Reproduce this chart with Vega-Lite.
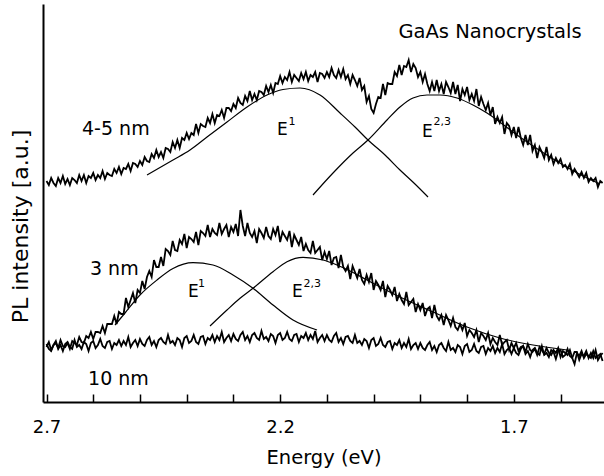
{
  "$schema": "https://vega.github.io/schema/vega-lite/v6.json",
  "width": 561,
  "height": 398,
  "autosize": {"type": "none"},
  "padding": {"left": 43, "top": 4, "right": 0, "bottom": 74},
  "background": "white",
  "config": {"view": {"stroke": null}, "font": "DejaVu Sans"},
  "datasets": {
    "pl": [
      {"d":"4-5 nm","E":2.700,"I":221},{"d":"4-5 nm","E":2.695,"I":217},{"d":"4-5 nm","E":2.690,"I":224},{"d":"4-5 nm","E":2.685,"I":219},{"d":"4-5 nm","E":2.680,"I":216},{"d":"4-5 nm","E":2.675,"I":224},{"d":"4-5 nm","E":2.670,"I":219},{"d":"4-5 nm","E":2.665,"I":226},{"d":"4-5 nm","E":2.660,"I":218},{"d":"4-5 nm","E":2.655,"I":223},
      {"d":"4-5 nm","E":2.650,"I":217},{"d":"4-5 nm","E":2.645,"I":224},{"d":"4-5 nm","E":2.640,"I":222},{"d":"4-5 nm","E":2.635,"I":219},{"d":"4-5 nm","E":2.630,"I":227},{"d":"4-5 nm","E":2.625,"I":221},{"d":"4-5 nm","E":2.620,"I":227},{"d":"4-5 nm","E":2.615,"I":219},{"d":"4-5 nm","E":2.610,"I":226},{"d":"4-5 nm","E":2.605,"I":224},
      {"d":"4-5 nm","E":2.600,"I":229},{"d":"4-5 nm","E":2.595,"I":222},{"d":"4-5 nm","E":2.590,"I":227},{"d":"4-5 nm","E":2.585,"I":224},{"d":"4-5 nm","E":2.580,"I":231},{"d":"4-5 nm","E":2.575,"I":223},{"d":"4-5 nm","E":2.570,"I":229},{"d":"4-5 nm","E":2.565,"I":227},{"d":"4-5 nm","E":2.560,"I":226},{"d":"4-5 nm","E":2.555,"I":233},
      {"d":"4-5 nm","E":2.550,"I":229},{"d":"4-5 nm","E":2.545,"I":235},{"d":"4-5 nm","E":2.540,"I":228},{"d":"4-5 nm","E":2.535,"I":234},{"d":"4-5 nm","E":2.530,"I":233},{"d":"4-5 nm","E":2.525,"I":238},{"d":"4-5 nm","E":2.520,"I":231},{"d":"4-5 nm","E":2.515,"I":239},{"d":"4-5 nm","E":2.510,"I":238},{"d":"4-5 nm","E":2.505,"I":235},
      {"d":"4-5 nm","E":2.500,"I":241},{"d":"4-5 nm","E":2.495,"I":237},{"d":"4-5 nm","E":2.490,"I":245},{"d":"4-5 nm","E":2.485,"I":241},{"d":"4-5 nm","E":2.480,"I":240},{"d":"4-5 nm","E":2.475,"I":248},{"d":"4-5 nm","E":2.470,"I":244},{"d":"4-5 nm","E":2.465,"I":252},{"d":"4-5 nm","E":2.460,"I":245},{"d":"4-5 nm","E":2.455,"I":250},
      {"d":"4-5 nm","E":2.450,"I":244},{"d":"4-5 nm","E":2.445,"I":254},{"d":"4-5 nm","E":2.440,"I":253},{"d":"4-5 nm","E":2.435,"I":250},{"d":"4-5 nm","E":2.430,"I":260},{"d":"4-5 nm","E":2.425,"I":254},{"d":"4-5 nm","E":2.420,"I":262},{"d":"4-5 nm","E":2.415,"I":254},{"d":"4-5 nm","E":2.410,"I":264},{"d":"4-5 nm","E":2.405,"I":262},
      {"d":"4-5 nm","E":2.400,"I":269},{"d":"4-5 nm","E":2.395,"I":263},{"d":"4-5 nm","E":2.390,"I":269},{"d":"4-5 nm","E":2.385,"I":267},{"d":"4-5 nm","E":2.380,"I":278},{"d":"4-5 nm","E":2.375,"I":269},{"d":"4-5 nm","E":2.370,"I":278},{"d":"4-5 nm","E":2.365,"I":276},{"d":"4-5 nm","E":2.360,"I":275},{"d":"4-5 nm","E":2.355,"I":284},
      {"d":"4-5 nm","E":2.350,"I":279},{"d":"4-5 nm","E":2.345,"I":288},{"d":"4-5 nm","E":2.340,"I":279},{"d":"4-5 nm","E":2.335,"I":287},{"d":"4-5 nm","E":2.330,"I":286},{"d":"4-5 nm","E":2.325,"I":292},{"d":"4-5 nm","E":2.320,"I":284},{"d":"4-5 nm","E":2.315,"I":294},{"d":"4-5 nm","E":2.310,"I":294},{"d":"4-5 nm","E":2.305,"I":291},
      {"d":"4-5 nm","E":2.300,"I":298},{"d":"4-5 nm","E":2.295,"I":294},{"d":"4-5 nm","E":2.290,"I":304},{"d":"4-5 nm","E":2.285,"I":299},{"d":"4-5 nm","E":2.280,"I":297},{"d":"4-5 nm","E":2.275,"I":306},{"d":"4-5 nm","E":2.270,"I":301},{"d":"4-5 nm","E":2.265,"I":311},{"d":"4-5 nm","E":2.260,"I":302},{"d":"4-5 nm","E":2.255,"I":308},
      {"d":"4-5 nm","E":2.250,"I":302},{"d":"4-5 nm","E":2.245,"I":311},{"d":"4-5 nm","E":2.240,"I":310},{"d":"4-5 nm","E":2.235,"I":307},{"d":"4-5 nm","E":2.230,"I":316},{"d":"4-5 nm","E":2.225,"I":310},{"d":"4-5 nm","E":2.220,"I":317},{"d":"4-5 nm","E":2.215,"I":309},{"d":"4-5 nm","E":2.210,"I":319},{"d":"4-5 nm","E":2.205,"I":318},
      {"d":"4-5 nm","E":2.200,"I":326},{"d":"4-5 nm","E":2.195,"I":319},{"d":"4-5 nm","E":2.190,"I":325},{"d":"4-5 nm","E":2.185,"I":322},{"d":"4-5 nm","E":2.180,"I":330},{"d":"4-5 nm","E":2.175,"I":320},{"d":"4-5 nm","E":2.170,"I":327},{"d":"4-5 nm","E":2.165,"I":324},{"d":"4-5 nm","E":2.160,"I":321},{"d":"4-5 nm","E":2.155,"I":329},
      {"d":"4-5 nm","E":2.150,"I":323},{"d":"4-5 nm","E":2.145,"I":330},{"d":"4-5 nm","E":2.140,"I":321},{"d":"4-5 nm","E":2.135,"I":327},{"d":"4-5 nm","E":2.130,"I":325},{"d":"4-5 nm","E":2.125,"I":330},{"d":"4-5 nm","E":2.120,"I":320},{"d":"4-5 nm","E":2.115,"I":329},{"d":"4-5 nm","E":2.110,"I":328},{"d":"4-5 nm","E":2.105,"I":324},
      {"d":"4-5 nm","E":2.100,"I":330},{"d":"4-5 nm","E":2.095,"I":325},{"d":"4-5 nm","E":2.090,"I":334},{"d":"4-5 nm","E":2.085,"I":327},{"d":"4-5 nm","E":2.080,"I":324},{"d":"4-5 nm","E":2.075,"I":332},{"d":"4-5 nm","E":2.070,"I":325},{"d":"4-5 nm","E":2.065,"I":333},{"d":"4-5 nm","E":2.060,"I":323},{"d":"4-5 nm","E":2.055,"I":327},
      {"d":"4-5 nm","E":2.050,"I":318},{"d":"4-5 nm","E":2.045,"I":327},{"d":"4-5 nm","E":2.040,"I":322},{"d":"4-5 nm","E":2.035,"I":316},{"d":"4-5 nm","E":2.030,"I":324},{"d":"4-5 nm","E":2.025,"I":312},{"d":"4-5 nm","E":2.020,"I":316},{"d":"4-5 nm","E":2.015,"I":300},{"d":"4-5 nm","E":2.010,"I":306},{"d":"4-5 nm","E":2.005,"I":293},
      {"d":"4-5 nm","E":2.000,"I":289},{"d":"4-5 nm","E":1.995,"I":298},{"d":"4-5 nm","E":1.990,"I":305},{"d":"4-5 nm","E":1.985,"I":304},{"d":"4-5 nm","E":1.980,"I":318},{"d":"4-5 nm","E":1.975,"I":307},{"d":"4-5 nm","E":1.970,"I":319},{"d":"4-5 nm","E":1.965,"I":318},{"d":"4-5 nm","E":1.960,"I":318},{"d":"4-5 nm","E":1.955,"I":330},
      {"d":"4-5 nm","E":1.950,"I":326},{"d":"4-5 nm","E":1.945,"I":337},{"d":"4-5 nm","E":1.940,"I":327},{"d":"4-5 nm","E":1.935,"I":336},{"d":"4-5 nm","E":1.930,"I":335},{"d":"4-5 nm","E":1.925,"I":342},{"d":"4-5 nm","E":1.920,"I":330},{"d":"4-5 nm","E":1.915,"I":338},{"d":"4-5 nm","E":1.910,"I":334},{"d":"4-5 nm","E":1.905,"I":325},
      {"d":"4-5 nm","E":1.900,"I":330},{"d":"4-5 nm","E":1.895,"I":320},{"d":"4-5 nm","E":1.890,"I":328},{"d":"4-5 nm","E":1.885,"I":318},{"d":"4-5 nm","E":1.880,"I":311},{"d":"4-5 nm","E":1.875,"I":320},{"d":"4-5 nm","E":1.870,"I":311},{"d":"4-5 nm","E":1.865,"I":322},{"d":"4-5 nm","E":1.860,"I":311},{"d":"4-5 nm","E":1.855,"I":318},
      {"d":"4-5 nm","E":1.850,"I":308},{"d":"4-5 nm","E":1.845,"I":320},{"d":"4-5 nm","E":1.840,"I":315},{"d":"4-5 nm","E":1.835,"I":309},{"d":"4-5 nm","E":1.830,"I":320},{"d":"4-5 nm","E":1.825,"I":308},{"d":"4-5 nm","E":1.820,"I":317},{"d":"4-5 nm","E":1.815,"I":301},{"d":"4-5 nm","E":1.810,"I":313},{"d":"4-5 nm","E":1.805,"I":307},
      {"d":"4-5 nm","E":1.800,"I":315},{"d":"4-5 nm","E":1.795,"I":302},{"d":"4-5 nm","E":1.790,"I":308},{"d":"4-5 nm","E":1.785,"I":301},{"d":"4-5 nm","E":1.780,"I":313},{"d":"4-5 nm","E":1.775,"I":296},{"d":"4-5 nm","E":1.770,"I":305},{"d":"4-5 nm","E":1.765,"I":298},{"d":"4-5 nm","E":1.760,"I":292},{"d":"4-5 nm","E":1.755,"I":299},
      {"d":"4-5 nm","E":1.750,"I":287},{"d":"4-5 nm","E":1.745,"I":295},{"d":"4-5 nm","E":1.740,"I":278},{"d":"4-5 nm","E":1.735,"I":285},{"d":"4-5 nm","E":1.730,"I":279},{"d":"4-5 nm","E":1.725,"I":285},{"d":"4-5 nm","E":1.720,"I":268},{"d":"4-5 nm","E":1.715,"I":279},{"d":"4-5 nm","E":1.710,"I":276},{"d":"4-5 nm","E":1.705,"I":267},
      {"d":"4-5 nm","E":1.700,"I":275},{"d":"4-5 nm","E":1.695,"I":264},{"d":"4-5 nm","E":1.690,"I":275},{"d":"4-5 nm","E":1.685,"I":264},{"d":"4-5 nm","E":1.680,"I":257},{"d":"4-5 nm","E":1.675,"I":267},{"d":"4-5 nm","E":1.670,"I":257},{"d":"4-5 nm","E":1.665,"I":267},{"d":"4-5 nm","E":1.660,"I":251},{"d":"4-5 nm","E":1.655,"I":257},
      {"d":"4-5 nm","E":1.650,"I":244},{"d":"4-5 nm","E":1.645,"I":255},{"d":"4-5 nm","E":1.640,"I":250},{"d":"4-5 nm","E":1.635,"I":244},{"d":"4-5 nm","E":1.630,"I":255},{"d":"4-5 nm","E":1.625,"I":242},{"d":"4-5 nm","E":1.620,"I":247},{"d":"4-5 nm","E":1.615,"I":238},{"d":"4-5 nm","E":1.610,"I":244},{"d":"4-5 nm","E":1.605,"I":239},
      {"d":"4-5 nm","E":1.600,"I":243},{"d":"4-5 nm","E":1.595,"I":235},{"d":"4-5 nm","E":1.590,"I":237},{"d":"4-5 nm","E":1.585,"I":233},{"d":"4-5 nm","E":1.580,"I":238},{"d":"4-5 nm","E":1.575,"I":228},{"d":"4-5 nm","E":1.570,"I":233},{"d":"4-5 nm","E":1.565,"I":229},{"d":"4-5 nm","E":1.560,"I":225},{"d":"4-5 nm","E":1.555,"I":230},
      {"d":"4-5 nm","E":1.550,"I":224},{"d":"4-5 nm","E":1.545,"I":229},{"d":"4-5 nm","E":1.540,"I":220},{"d":"4-5 nm","E":1.535,"I":224},{"d":"4-5 nm","E":1.530,"I":221},{"d":"4-5 nm","E":1.525,"I":224},{"d":"4-5 nm","E":1.520,"I":215},{"d":"4-5 nm","E":1.515,"I":221},{"d":"4-5 nm","E":1.510,"I":219},

      {"d":"3 nm","E":2.700,"I":55},{"d":"3 nm","E":2.695,"I":60},{"d":"3 nm","E":2.690,"I":52},{"d":"3 nm","E":2.685,"I":57},{"d":"3 nm","E":2.680,"I":59},{"d":"3 nm","E":2.675,"I":54},{"d":"3 nm","E":2.670,"I":62},{"d":"3 nm","E":2.665,"I":56},{"d":"3 nm","E":2.660,"I":55},{"d":"3 nm","E":2.655,"I":59},
      {"d":"3 nm","E":2.650,"I":53},{"d":"3 nm","E":2.645,"I":61},{"d":"3 nm","E":2.640,"I":59},{"d":"3 nm","E":2.635,"I":57},{"d":"3 nm","E":2.630,"I":65},{"d":"3 nm","E":2.625,"I":60},{"d":"3 nm","E":2.620,"I":59},{"d":"3 nm","E":2.615,"I":66},{"d":"3 nm","E":2.610,"I":64},{"d":"3 nm","E":2.605,"I":70},
      {"d":"3 nm","E":2.600,"I":63},{"d":"3 nm","E":2.595,"I":70},{"d":"3 nm","E":2.590,"I":70},{"d":"3 nm","E":2.585,"I":69},{"d":"3 nm","E":2.580,"I":76},{"d":"3 nm","E":2.575,"I":69},{"d":"3 nm","E":2.570,"I":78},{"d":"3 nm","E":2.565,"I":78},{"d":"3 nm","E":2.560,"I":78},{"d":"3 nm","E":2.555,"I":86},
      {"d":"3 nm","E":2.550,"I":78},{"d":"3 nm","E":2.545,"I":90},{"d":"3 nm","E":2.540,"I":88},{"d":"3 nm","E":2.535,"I":88},{"d":"3 nm","E":2.530,"I":104},{"d":"3 nm","E":2.525,"I":95},{"d":"3 nm","E":2.520,"I":102},{"d":"3 nm","E":2.515,"I":109},{"d":"3 nm","E":2.510,"I":99},{"d":"3 nm","E":2.505,"I":112},
      {"d":"3 nm","E":2.500,"I":109},{"d":"3 nm","E":2.495,"I":121},{"d":"3 nm","E":2.490,"I":113},{"d":"3 nm","E":2.485,"I":125},{"d":"3 nm","E":2.480,"I":131},{"d":"3 nm","E":2.475,"I":125},{"d":"3 nm","E":2.470,"I":142},{"d":"3 nm","E":2.465,"I":135},{"d":"3 nm","E":2.460,"I":135},{"d":"3 nm","E":2.455,"I":145},
      {"d":"3 nm","E":2.450,"I":136},{"d":"3 nm","E":2.445,"I":153},{"d":"3 nm","E":2.440,"I":151},{"d":"3 nm","E":2.435,"I":147},{"d":"3 nm","E":2.430,"I":161},{"d":"3 nm","E":2.425,"I":152},{"d":"3 nm","E":2.420,"I":151},{"d":"3 nm","E":2.415,"I":162},{"d":"3 nm","E":2.410,"I":158},{"d":"3 nm","E":2.405,"I":168},
      {"d":"3 nm","E":2.400,"I":154},{"d":"3 nm","E":2.395,"I":165},{"d":"3 nm","E":2.390,"I":163},{"d":"3 nm","E":2.385,"I":160},{"d":"3 nm","E":2.380,"I":170},{"d":"3 nm","E":2.375,"I":157},{"d":"3 nm","E":2.370,"I":171},{"d":"3 nm","E":2.365,"I":169},{"d":"3 nm","E":2.360,"I":166},{"d":"3 nm","E":2.355,"I":177},
      {"d":"3 nm","E":2.350,"I":165},{"d":"3 nm","E":2.345,"I":173},{"d":"3 nm","E":2.340,"I":169},{"d":"3 nm","E":2.335,"I":167},{"d":"3 nm","E":2.330,"I":179},{"d":"3 nm","E":2.325,"I":168},{"d":"3 nm","E":2.320,"I":173},{"d":"3 nm","E":2.315,"I":177},{"d":"3 nm","E":2.310,"I":165},{"d":"3 nm","E":2.305,"I":175},
      {"d":"3 nm","E":2.300,"I":170},{"d":"3 nm","E":2.295,"I":178},{"d":"3 nm","E":2.290,"I":166},{"d":"3 nm","E":2.285,"I":192},{"d":"3 nm","E":2.280,"I":176},{"d":"3 nm","E":2.275,"I":166},{"d":"3 nm","E":2.270,"I":179},{"d":"3 nm","E":2.265,"I":169},{"d":"3 nm","E":2.260,"I":165},{"d":"3 nm","E":2.255,"I":171},
      {"d":"3 nm","E":2.250,"I":159},{"d":"3 nm","E":2.245,"I":173},{"d":"3 nm","E":2.240,"I":169},{"d":"3 nm","E":2.235,"I":164},{"d":"3 nm","E":2.230,"I":175},{"d":"3 nm","E":2.225,"I":166},{"d":"3 nm","E":2.220,"I":163},{"d":"3 nm","E":2.215,"I":173},{"d":"3 nm","E":2.210,"I":167},{"d":"3 nm","E":2.205,"I":176},
      {"d":"3 nm","E":2.200,"I":160},{"d":"3 nm","E":2.195,"I":170},{"d":"3 nm","E":2.190,"I":166},{"d":"3 nm","E":2.185,"I":162},{"d":"3 nm","E":2.180,"I":171},{"d":"3 nm","E":2.175,"I":155},{"d":"3 nm","E":2.170,"I":167},{"d":"3 nm","E":2.165,"I":162},{"d":"3 nm","E":2.160,"I":157},{"d":"3 nm","E":2.155,"I":165},
      {"d":"3 nm","E":2.150,"I":151},{"d":"3 nm","E":2.145,"I":158},{"d":"3 nm","E":2.140,"I":152},{"d":"3 nm","E":2.135,"I":149},{"d":"3 nm","E":2.130,"I":161},{"d":"3 nm","E":2.125,"I":149},{"d":"3 nm","E":2.120,"I":152},{"d":"3 nm","E":2.115,"I":155},{"d":"3 nm","E":2.110,"I":142},{"d":"3 nm","E":2.105,"I":150},
      {"d":"3 nm","E":2.100,"I":143},{"d":"3 nm","E":2.095,"I":151},{"d":"3 nm","E":2.090,"I":137},{"d":"3 nm","E":2.085,"I":144},{"d":"3 nm","E":2.080,"I":145},{"d":"3 nm","E":2.075,"I":134},{"d":"3 nm","E":2.070,"I":147},{"d":"3 nm","E":2.065,"I":135},{"d":"3 nm","E":2.060,"I":131},{"d":"3 nm","E":2.055,"I":136},
      {"d":"3 nm","E":2.050,"I":123},{"d":"3 nm","E":2.045,"I":136},{"d":"3 nm","E":2.040,"I":130},{"d":"3 nm","E":2.035,"I":124},{"d":"3 nm","E":2.030,"I":133},{"d":"3 nm","E":2.025,"I":122},{"d":"3 nm","E":2.020,"I":118},{"d":"3 nm","E":2.015,"I":127},{"d":"3 nm","E":2.010,"I":120},{"d":"3 nm","E":2.005,"I":129},
      {"d":"3 nm","E":2.000,"I":112},{"d":"3 nm","E":1.995,"I":121},{"d":"3 nm","E":1.990,"I":117},{"d":"3 nm","E":1.985,"I":112},{"d":"3 nm","E":1.980,"I":121},{"d":"3 nm","E":1.975,"I":105},{"d":"3 nm","E":1.970,"I":116},{"d":"3 nm","E":1.965,"I":112},{"d":"3 nm","E":1.960,"I":107},{"d":"3 nm","E":1.955,"I":115},
      {"d":"3 nm","E":1.950,"I":101},{"d":"3 nm","E":1.945,"I":108},{"d":"3 nm","E":1.940,"I":102},{"d":"3 nm","E":1.935,"I":98},{"d":"3 nm","E":1.930,"I":110},{"d":"3 nm","E":1.925,"I":97},{"d":"3 nm","E":1.920,"I":100},{"d":"3 nm","E":1.915,"I":103},{"d":"3 nm","E":1.910,"I":90},{"d":"3 nm","E":1.905,"I":98},
      {"d":"3 nm","E":1.900,"I":92},{"d":"3 nm","E":1.895,"I":99},{"d":"3 nm","E":1.890,"I":86},{"d":"3 nm","E":1.885,"I":93},{"d":"3 nm","E":1.880,"I":95},{"d":"3 nm","E":1.875,"I":84},{"d":"3 nm","E":1.870,"I":97},{"d":"3 nm","E":1.865,"I":86},{"d":"3 nm","E":1.860,"I":82},{"d":"3 nm","E":1.855,"I":87},
      {"d":"3 nm","E":1.850,"I":77},{"d":"3 nm","E":1.845,"I":87},{"d":"3 nm","E":1.840,"I":82},{"d":"3 nm","E":1.835,"I":76},{"d":"3 nm","E":1.830,"I":84},{"d":"3 nm","E":1.825,"I":75},{"d":"3 nm","E":1.820,"I":72},{"d":"3 nm","E":1.815,"I":78},{"d":"3 nm","E":1.810,"I":72},{"d":"3 nm","E":1.805,"I":79},
      {"d":"3 nm","E":1.800,"I":66},{"d":"3 nm","E":1.795,"I":72},{"d":"3 nm","E":1.790,"I":69},{"d":"3 nm","E":1.785,"I":65},{"d":"3 nm","E":1.780,"I":72},{"d":"3 nm","E":1.775,"I":60},{"d":"3 nm","E":1.770,"I":69},{"d":"3 nm","E":1.765,"I":66},{"d":"3 nm","E":1.760,"I":62},{"d":"3 nm","E":1.755,"I":69},
      {"d":"3 nm","E":1.750,"I":58},{"d":"3 nm","E":1.745,"I":64},{"d":"3 nm","E":1.740,"I":60},{"d":"3 nm","E":1.735,"I":57},{"d":"3 nm","E":1.730,"I":67},{"d":"3 nm","E":1.725,"I":57},{"d":"3 nm","E":1.720,"I":60},{"d":"3 nm","E":1.715,"I":62},{"d":"3 nm","E":1.710,"I":52},{"d":"3 nm","E":1.705,"I":59},
      {"d":"3 nm","E":1.700,"I":54},{"d":"3 nm","E":1.695,"I":59},{"d":"3 nm","E":1.690,"I":51},{"d":"3 nm","E":1.685,"I":55},{"d":"3 nm","E":1.680,"I":56},{"d":"3 nm","E":1.675,"I":50},{"d":"3 nm","E":1.670,"I":58},{"d":"3 nm","E":1.665,"I":52},{"d":"3 nm","E":1.660,"I":50},{"d":"3 nm","E":1.655,"I":53},
      {"d":"3 nm","E":1.650,"I":47},{"d":"3 nm","E":1.645,"I":55},{"d":"3 nm","E":1.640,"I":52},{"d":"3 nm","E":1.635,"I":48},{"d":"3 nm","E":1.630,"I":54},{"d":"3 nm","E":1.625,"I":49},{"d":"3 nm","E":1.620,"I":47},{"d":"3 nm","E":1.615,"I":52},{"d":"3 nm","E":1.610,"I":49},{"d":"3 nm","E":1.605,"I":54},
      {"d":"3 nm","E":1.600,"I":45},{"d":"3 nm","E":1.595,"I":51},{"d":"3 nm","E":1.590,"I":49},{"d":"3 nm","E":1.585,"I":47},{"d":"3 nm","E":1.580,"I":52},{"d":"3 nm","E":1.575,"I":44},{"d":"3 nm","E":1.570,"I":38},{"d":"3 nm","E":1.565,"I":49},{"d":"3 nm","E":1.560,"I":46},{"d":"3 nm","E":1.555,"I":51},
      {"d":"3 nm","E":1.550,"I":44},{"d":"3 nm","E":1.545,"I":48},{"d":"3 nm","E":1.540,"I":46},{"d":"3 nm","E":1.535,"I":44},{"d":"3 nm","E":1.530,"I":51},{"d":"3 nm","E":1.525,"I":44},{"d":"3 nm","E":1.520,"I":46},{"d":"3 nm","E":1.515,"I":48},{"d":"3 nm","E":1.510,"I":41},

      {"d":"10 nm","E":2.700,"I":58},{"d":"10 nm","E":2.695,"I":53},{"d":"10 nm","E":2.690,"I":51},{"d":"10 nm","E":2.685,"I":57},{"d":"10 nm","E":2.680,"I":61},{"d":"10 nm","E":2.675,"I":53},{"d":"10 nm","E":2.670,"I":57},{"d":"10 nm","E":2.665,"I":51},{"d":"10 nm","E":2.660,"I":58},{"d":"10 nm","E":2.655,"I":60},
      {"d":"10 nm","E":2.650,"I":55},{"d":"10 nm","E":2.645,"I":53},{"d":"10 nm","E":2.640,"I":62},{"d":"10 nm","E":2.635,"I":55},{"d":"10 nm","E":2.630,"I":57},{"d":"10 nm","E":2.625,"I":53},{"d":"10 nm","E":2.620,"I":60},{"d":"10 nm","E":2.615,"I":58},{"d":"10 nm","E":2.610,"I":51},{"d":"10 nm","E":2.605,"I":59},
      {"d":"10 nm","E":2.600,"I":61},{"d":"10 nm","E":2.595,"I":54},{"d":"10 nm","E":2.590,"I":57},{"d":"10 nm","E":2.585,"I":63},{"d":"10 nm","E":2.580,"I":56},{"d":"10 nm","E":2.575,"I":54},{"d":"10 nm","E":2.570,"I":60},{"d":"10 nm","E":2.565,"I":61},{"d":"10 nm","E":2.560,"I":53},{"d":"10 nm","E":2.555,"I":59},
      {"d":"10 nm","E":2.550,"I":57},{"d":"10 nm","E":2.545,"I":62},{"d":"10 nm","E":2.540,"I":56},{"d":"10 nm","E":2.535,"I":61},{"d":"10 nm","E":2.530,"I":57},{"d":"10 nm","E":2.525,"I":65},{"d":"10 nm","E":2.520,"I":55},{"d":"10 nm","E":2.515,"I":59},{"d":"10 nm","E":2.510,"I":62},{"d":"10 nm","E":2.505,"I":56},
      {"d":"10 nm","E":2.500,"I":63},{"d":"10 nm","E":2.495,"I":58},{"d":"10 nm","E":2.490,"I":56},{"d":"10 nm","E":2.485,"I":62},{"d":"10 nm","E":2.480,"I":65},{"d":"10 nm","E":2.475,"I":57},{"d":"10 nm","E":2.470,"I":61},{"d":"10 nm","E":2.465,"I":55},{"d":"10 nm","E":2.460,"I":62},{"d":"10 nm","E":2.455,"I":64},
      {"d":"10 nm","E":2.450,"I":60},{"d":"10 nm","E":2.445,"I":58},{"d":"10 nm","E":2.440,"I":67},{"d":"10 nm","E":2.435,"I":59},{"d":"10 nm","E":2.430,"I":61},{"d":"10 nm","E":2.425,"I":57},{"d":"10 nm","E":2.420,"I":64},{"d":"10 nm","E":2.415,"I":62},{"d":"10 nm","E":2.410,"I":55},{"d":"10 nm","E":2.405,"I":64},
      {"d":"10 nm","E":2.400,"I":66},{"d":"10 nm","E":2.395,"I":59},{"d":"10 nm","E":2.390,"I":61},{"d":"10 nm","E":2.385,"I":67},{"d":"10 nm","E":2.380,"I":60},{"d":"10 nm","E":2.375,"I":58},{"d":"10 nm","E":2.370,"I":65},{"d":"10 nm","E":2.365,"I":66},{"d":"10 nm","E":2.360,"I":58},{"d":"10 nm","E":2.355,"I":64},
      {"d":"10 nm","E":2.350,"I":62},{"d":"10 nm","E":2.345,"I":67},{"d":"10 nm","E":2.340,"I":60},{"d":"10 nm","E":2.335,"I":66},{"d":"10 nm","E":2.330,"I":62},{"d":"10 nm","E":2.325,"I":70},{"d":"10 nm","E":2.320,"I":60},{"d":"10 nm","E":2.315,"I":64},{"d":"10 nm","E":2.310,"I":67},{"d":"10 nm","E":2.305,"I":61},
      {"d":"10 nm","E":2.300,"I":68},{"d":"10 nm","E":2.295,"I":63},{"d":"10 nm","E":2.290,"I":61},{"d":"10 nm","E":2.285,"I":67},{"d":"10 nm","E":2.280,"I":70},{"d":"10 nm","E":2.275,"I":62},{"d":"10 nm","E":2.270,"I":66},{"d":"10 nm","E":2.265,"I":60},{"d":"10 nm","E":2.260,"I":67},{"d":"10 nm","E":2.255,"I":69},
      {"d":"10 nm","E":2.250,"I":64},{"d":"10 nm","E":2.245,"I":62},{"d":"10 nm","E":2.240,"I":71},{"d":"10 nm","E":2.235,"I":63},{"d":"10 nm","E":2.230,"I":65},{"d":"10 nm","E":2.225,"I":61},{"d":"10 nm","E":2.220,"I":68},{"d":"10 nm","E":2.215,"I":66},{"d":"10 nm","E":2.210,"I":59},{"d":"10 nm","E":2.205,"I":67},
      {"d":"10 nm","E":2.200,"I":69},{"d":"10 nm","E":2.195,"I":62},{"d":"10 nm","E":2.190,"I":64},{"d":"10 nm","E":2.185,"I":70},{"d":"10 nm","E":2.180,"I":63},{"d":"10 nm","E":2.175,"I":61},{"d":"10 nm","E":2.170,"I":67},{"d":"10 nm","E":2.165,"I":68},{"d":"10 nm","E":2.160,"I":60},{"d":"10 nm","E":2.155,"I":66},
      {"d":"10 nm","E":2.150,"I":64},{"d":"10 nm","E":2.145,"I":69},{"d":"10 nm","E":2.140,"I":62},{"d":"10 nm","E":2.135,"I":67},{"d":"10 nm","E":2.130,"I":63},{"d":"10 nm","E":2.125,"I":71},{"d":"10 nm","E":2.120,"I":60},{"d":"10 nm","E":2.115,"I":64},{"d":"10 nm","E":2.110,"I":67},{"d":"10 nm","E":2.105,"I":61},
      {"d":"10 nm","E":2.100,"I":67},{"d":"10 nm","E":2.095,"I":62},{"d":"10 nm","E":2.090,"I":60},{"d":"10 nm","E":2.085,"I":66},{"d":"10 nm","E":2.080,"I":69},{"d":"10 nm","E":2.075,"I":60},{"d":"10 nm","E":2.070,"I":64},{"d":"10 nm","E":2.065,"I":58},{"d":"10 nm","E":2.060,"I":65},{"d":"10 nm","E":2.055,"I":66},
      {"d":"10 nm","E":2.050,"I":61},{"d":"10 nm","E":2.045,"I":59},{"d":"10 nm","E":2.040,"I":67},{"d":"10 nm","E":2.035,"I":59},{"d":"10 nm","E":2.030,"I":61},{"d":"10 nm","E":2.025,"I":57},{"d":"10 nm","E":2.020,"I":63},{"d":"10 nm","E":2.015,"I":61},{"d":"10 nm","E":2.010,"I":54},{"d":"10 nm","E":2.005,"I":62},
      {"d":"10 nm","E":2.000,"I":64},{"d":"10 nm","E":1.995,"I":56},{"d":"10 nm","E":1.990,"I":58},{"d":"10 nm","E":1.985,"I":64},{"d":"10 nm","E":1.980,"I":57},{"d":"10 nm","E":1.975,"I":55},{"d":"10 nm","E":1.970,"I":60},{"d":"10 nm","E":1.965,"I":61},{"d":"10 nm","E":1.960,"I":53},{"d":"10 nm","E":1.955,"I":59},
      {"d":"10 nm","E":1.950,"I":57},{"d":"10 nm","E":1.945,"I":62},{"d":"10 nm","E":1.940,"I":54},{"d":"10 nm","E":1.935,"I":59},{"d":"10 nm","E":1.930,"I":55},{"d":"10 nm","E":1.925,"I":63},{"d":"10 nm","E":1.920,"I":53},{"d":"10 nm","E":1.915,"I":57},{"d":"10 nm","E":1.910,"I":59},{"d":"10 nm","E":1.905,"I":53},
      {"d":"10 nm","E":1.900,"I":59},{"d":"10 nm","E":1.895,"I":54},{"d":"10 nm","E":1.890,"I":52},{"d":"10 nm","E":1.885,"I":57},{"d":"10 nm","E":1.880,"I":60},{"d":"10 nm","E":1.875,"I":52},{"d":"10 nm","E":1.870,"I":56},{"d":"10 nm","E":1.865,"I":50},{"d":"10 nm","E":1.860,"I":57},{"d":"10 nm","E":1.855,"I":59},
      {"d":"10 nm","E":1.850,"I":54},{"d":"10 nm","E":1.845,"I":51},{"d":"10 nm","E":1.840,"I":60},{"d":"10 nm","E":1.835,"I":52},{"d":"10 nm","E":1.830,"I":54},{"d":"10 nm","E":1.825,"I":50},{"d":"10 nm","E":1.820,"I":57},{"d":"10 nm","E":1.815,"I":55},{"d":"10 nm","E":1.810,"I":48},{"d":"10 nm","E":1.805,"I":56},
      {"d":"10 nm","E":1.800,"I":58},{"d":"10 nm","E":1.795,"I":50},{"d":"10 nm","E":1.790,"I":52},{"d":"10 nm","E":1.785,"I":58},{"d":"10 nm","E":1.780,"I":51},{"d":"10 nm","E":1.775,"I":49},{"d":"10 nm","E":1.770,"I":55},{"d":"10 nm","E":1.765,"I":56},{"d":"10 nm","E":1.760,"I":48},{"d":"10 nm","E":1.755,"I":54},
      {"d":"10 nm","E":1.750,"I":51},{"d":"10 nm","E":1.745,"I":56},{"d":"10 nm","E":1.740,"I":49},{"d":"10 nm","E":1.735,"I":54},{"d":"10 nm","E":1.730,"I":50},{"d":"10 nm","E":1.725,"I":58},{"d":"10 nm","E":1.720,"I":48},{"d":"10 nm","E":1.715,"I":52},{"d":"10 nm","E":1.710,"I":54},{"d":"10 nm","E":1.705,"I":48},
      {"d":"10 nm","E":1.700,"I":54},{"d":"10 nm","E":1.695,"I":49},{"d":"10 nm","E":1.690,"I":47},{"d":"10 nm","E":1.685,"I":53},{"d":"10 nm","E":1.680,"I":56},{"d":"10 nm","E":1.675,"I":48},{"d":"10 nm","E":1.670,"I":51},{"d":"10 nm","E":1.665,"I":45},{"d":"10 nm","E":1.660,"I":52},{"d":"10 nm","E":1.655,"I":54},
      {"d":"10 nm","E":1.650,"I":49},{"d":"10 nm","E":1.645,"I":47},{"d":"10 nm","E":1.640,"I":56},{"d":"10 nm","E":1.635,"I":47},{"d":"10 nm","E":1.630,"I":49},{"d":"10 nm","E":1.625,"I":45},{"d":"10 nm","E":1.620,"I":52},{"d":"10 nm","E":1.615,"I":50},{"d":"10 nm","E":1.610,"I":43},{"d":"10 nm","E":1.605,"I":51},
      {"d":"10 nm","E":1.600,"I":52},{"d":"10 nm","E":1.595,"I":45},{"d":"10 nm","E":1.590,"I":47},{"d":"10 nm","E":1.585,"I":53},{"d":"10 nm","E":1.580,"I":46},{"d":"10 nm","E":1.575,"I":44},{"d":"10 nm","E":1.570,"I":50},{"d":"10 nm","E":1.565,"I":50},{"d":"10 nm","E":1.560,"I":42},{"d":"10 nm","E":1.555,"I":48},
      {"d":"10 nm","E":1.550,"I":46},{"d":"10 nm","E":1.545,"I":51},{"d":"10 nm","E":1.540,"I":44},{"d":"10 nm","E":1.535,"I":49},{"d":"10 nm","E":1.530,"I":44},{"d":"10 nm","E":1.525,"I":52},{"d":"10 nm","E":1.520,"I":42},{"d":"10 nm","E":1.515,"I":46},{"d":"10 nm","E":1.510,"I":49}
    ],
    "fit": [
      {"c":"4-5 nm E1","E":2.4849,"I":227},{"c":"4-5 nm E1","E":2.4293,"I":242},{"c":"4-5 nm E1","E":2.3929,"I":252},{"c":"4-5 nm E1","E":2.3565,"I":265},{"c":"4-5 nm E1","E":2.3137,"I":280},{"c":"4-5 nm E1","E":2.2709,"I":295},{"c":"4-5 nm E1","E":2.2281,"I":307},{"c":"4-5 nm E1","E":2.1939,"I":312.5},{"c":"4-5 nm E1","E":2.1575,"I":314},{"c":"4-5 nm E1","E":2.1147,"I":307},{"c":"4-5 nm E1","E":2.0719,"I":289},{"c":"4-5 nm E1","E":2.0398,"I":275},{"c":"4-5 nm E1","E":2.0120,"I":262},{"c":"4-5 nm E1","E":1.9756,"I":247},{"c":"4-5 nm E1","E":1.9436,"I":232},{"c":"4-5 nm E1","E":1.9115,"I":218},{"c":"4-5 nm E1","E":1.8836,"I":205},
      {"c":"4-5 nm E23","E":2.1297,"I":207},{"c":"4-5 nm E23","E":2.0869,"I":229},{"c":"4-5 nm E23","E":2.0441,"I":249},{"c":"4-5 nm E23","E":2.0120,"I":262},{"c":"4-5 nm E23","E":1.9714,"I":282},{"c":"4-5 nm E23","E":1.9436,"I":295},{"c":"4-5 nm E23","E":1.9157,"I":304},{"c":"4-5 nm E23","E":1.8858,"I":307},{"c":"4-5 nm E23","E":1.8580,"I":307},{"c":"4-5 nm E23","E":1.8216,"I":304},{"c":"4-5 nm E23","E":1.7874,"I":297},{"c":"4-5 nm E23","E":1.7574,"I":289},{"c":"4-5 nm E23","E":1.6932,"I":267},{"c":"4-5 nm E23","E":1.6226,"I":245},{"c":"4-5 nm E23","E":1.5519,"I":226},{"c":"4-5 nm E23","E":1.5156,"I":218},
      {"c":"3 nm E1","E":2.5534,"I":77},{"c":"3 nm E1","E":2.5320,"I":89},{"c":"3 nm E1","E":2.5000,"I":107},{"c":"3 nm E1","E":2.4636,"I":122},{"c":"3 nm E1","E":2.4293,"I":133.5},{"c":"3 nm E1","E":2.3865,"I":139.3},{"c":"3 nm E1","E":2.3437,"I":137},{"c":"3 nm E1","E":2.3009,"I":127},{"c":"3 nm E1","E":2.2581,"I":113.7},{"c":"3 nm E1","E":2.2153,"I":97},{"c":"3 nm E1","E":2.1725,"I":82},{"c":"3 nm E1","E":2.1211,"I":72},
      {"c":"3 nm E23","E":2.3501,"I":76},{"c":"3 nm E23","E":2.3138,"I":92},{"c":"3 nm E23","E":2.2859,"I":103.7},{"c":"3 nm E23","E":2.2581,"I":113.7},{"c":"3 nm E23","E":2.2153,"I":130.3},{"c":"3 nm E23","E":2.1854,"I":140.3},{"c":"3 nm E23","E":2.1511,"I":144.7},{"c":"3 nm E23","E":2.1083,"I":142},{"c":"3 nm E23","E":2.0784,"I":137},{"c":"3 nm E23","E":2.0505,"I":131},{"c":"3 nm E23","E":2.0142,"I":122},{"c":"3 nm E23","E":1.9436,"I":105},{"c":"3 nm E23","E":1.8729,"I":90},{"c":"3 nm E23","E":1.8002,"I":75},{"c":"3 nm E23","E":1.7296,"I":64},{"c":"3 nm E23","E":1.6589,"I":57},{"c":"3 nm E23","E":1.5862,"I":52}
    ],
    "labels": [
      {"kind":"title","text":"GaAs Nanocrystals","E":1.751,"I":364},
      {"kind":"size","text":"4-5 nm","E":2.624,"I":267},
      {"kind":"size","text":"3 nm","E":2.607,"I":127},
      {"kind":"size","text":"10 nm","E":2.611,"I":17},
      {"kind":"band","text":"E","E":2.2068,"I":267},
      {"kind":"band","text":"E","E":1.8965,"I":265},
      {"kind":"band","text":"E","E":2.3972,"I":105},
      {"kind":"band","text":"E","E":2.1746,"I":105},
      {"kind":"sup","text":"1","E":2.1819,"I":277},
      {"kind":"sup","text":"2,3","E":1.8717,"I":277},
      {"kind":"sup","text":"1","E":2.3757,"I":115},
      {"kind":"sup","text":"2,3","E":2.1498,"I":115}
    ]
  },
  "layer": [
    {
      "data": {"name": "pl"},
      "mark": {"type": "line", "color": "black", "strokeWidth": 1.8},
      "encoding": {
        "x": {
          "field": "E", "type": "quantitative",
          "scale": {"domain": [1.507, 2.7075], "reverse": true, "nice": false, "zero": false},
          "axis": {
            "title": "Energy (eV)",
            "values": [2.7, 2.6, 2.5, 2.4, 2.3, 2.2, 2.1, 2.0, 1.9, 1.8, 1.7, 1.6],
            "labelExpr": "round(datum.value * 10) % 5 == 2 ? format(datum.value, '.1f') : ''",
            "grid": false,
            "domainColor": "black", "domainWidth": 2,
            "tickColor": "black", "tickWidth": 1.5, "tickSize": -8,
            "labelFont": "DejaVu Sans", "labelFontSize": 18, "labelColor": "black",
            "labelBaseline": "alphabetic", "labelPadding": 38,
            "labelFlush": false, "labelOverlap": false,
            "titleFont": "DejaVu Sans", "titleFontSize": 19.5, "titleFontWeight": "normal", "titleColor": "black",
            "titleY": 61, "titleBaseline": "alphabetic"
          }
        },
        "y": {
          "field": "I", "type": "quantitative",
          "scale": {"domain": [0, 398], "nice": false, "zero": false},
          "axis": {
            "title": "PL intensity [a.u.]",
            "ticks": false, "labels": false, "grid": false,
            "domainColor": "black", "domainWidth": 2,
            "titleFont": "DejaVu Sans", "titleFontSize": 22, "titleFontWeight": "normal", "titleColor": "black",
            "titleAngle": -90, "titleX": -23, "titleY": 222, "titleAlign": "center", "titleBaseline": "middle"
          }
        },
        "detail": {"field": "d"}
      }
    },
    {
      "data": {"name": "fit"},
      "mark": {"type": "line", "color": "black", "strokeWidth": 1.2, "interpolate": "monotone"},
      "encoding": {
        "x": {"field": "E", "type": "quantitative"},
        "y": {"field": "I", "type": "quantitative"},
        "detail": {"field": "c"}
      }
    },
    {
      "mark": {"type": "rule", "color": "black", "strokeWidth": 2},
      "encoding": {"y": {"datum": 398, "type": "quantitative"}}
    },
    {
      "data": {"name": "labels"},
      "transform": [{"filter": "datum.kind == 'title'"}],
      "mark": {"type": "text", "font": "DejaVu Sans", "fontSize": 19.5, "align": "center", "baseline": "alphabetic", "color": "black"},
      "encoding": {
        "x": {"field": "E", "type": "quantitative"},
        "y": {"field": "I", "type": "quantitative"},
        "text": {"field": "text"}
      }
    },
    {
      "data": {"name": "labels"},
      "transform": [{"filter": "datum.kind == 'size'"}],
      "mark": {"type": "text", "font": "DejaVu Sans", "fontSize": 19, "align": "left", "baseline": "alphabetic", "color": "black"},
      "encoding": {
        "x": {"field": "E", "type": "quantitative"},
        "y": {"field": "I", "type": "quantitative"},
        "text": {"field": "text"}
      }
    },
    {
      "data": {"name": "labels"},
      "transform": [{"filter": "datum.kind == 'band'"}],
      "mark": {"type": "text", "font": "DejaVu Sans", "fontSize": 17, "align": "left", "baseline": "alphabetic", "color": "black"},
      "encoding": {
        "x": {"field": "E", "type": "quantitative"},
        "y": {"field": "I", "type": "quantitative"},
        "text": {"field": "text"}
      }
    },
    {
      "data": {"name": "labels"},
      "transform": [{"filter": "datum.kind == 'sup'"}],
      "mark": {"type": "text", "font": "DejaVu Sans", "fontSize": 11, "align": "left", "baseline": "alphabetic", "color": "black"},
      "encoding": {
        "x": {"field": "E", "type": "quantitative"},
        "y": {"field": "I", "type": "quantitative"},
        "text": {"field": "text"}
      }
    }
  ]
}
